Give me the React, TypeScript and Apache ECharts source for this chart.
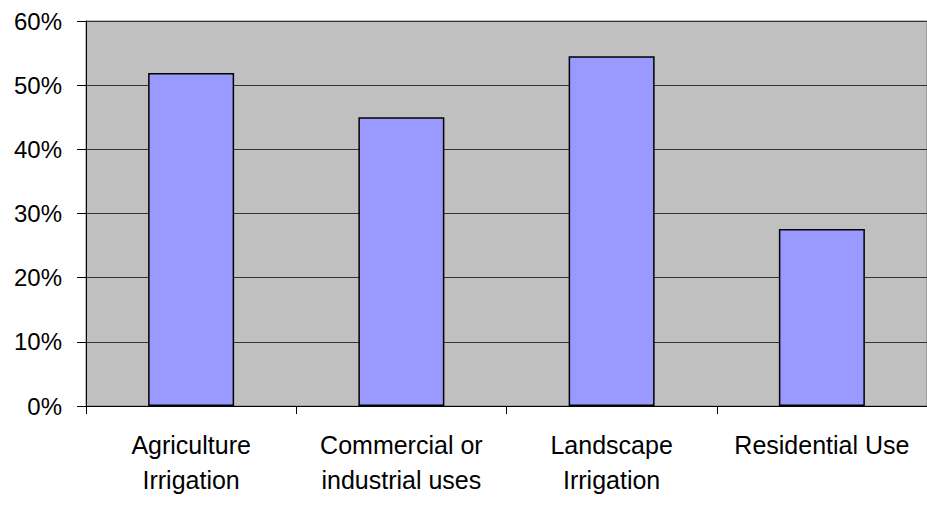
import React, { useEffect, useRef } from "react";
import * as echarts from "echarts";

const categories = [
  "Agriculture\nIrrigation",
  "Commercial or\nindustrial uses",
  "Landscape\nIrrigation",
  "Residential Use",
];
const values = [51.9, 45.0, 54.5, 27.6];
const yTicks = { min: 0, max: 60, interval: 10 };

export default function App() {
  const ref = useRef<HTMLDivElement>(null);
  useEffect(() => {
    document.body.style.margin = "0";
    const chart = echarts.init(ref.current!, null, { renderer: "svg" });
    const font = "'Liberation Sans', Arial, sans-serif";
    chart.setOption({
      animation: false,
      backgroundColor: "#ffffff",
      grid: {
        left: 86,
        right: -1,
        top: 21,
        bottom: 115,
        show: true,
        backgroundColor: "#c0c0c0",
        borderColor: "#808080",
        borderWidth: 1,
      },
      xAxis: {
        type: "category",
        data: categories,
        axisLine: { show: true, lineStyle: { color: "#000", width: 1 } },
        axisTick: { show: true, length: 8, lineStyle: { color: "#000" } },
        axisLabel: {
          color: "#000",
          fontSize: 25,
          fontFamily: font,
          lineHeight: 35,
          margin: 21,
          interval: 0,
        },
      },
      yAxis: {
        type: "value",
        min: yTicks.min,
        max: yTicks.max,
        interval: yTicks.interval,
        axisLine: { show: true, lineStyle: { color: "#000", width: 1 } },
        axisTick: { show: true, length: 9, lineStyle: { color: "#000" } },
        splitLine: { show: true, lineStyle: { color: "#333", width: 1 } },
        axisLabel: {
          color: "#000",
          fontSize: 24,
          fontFamily: font,
          margin: 24,
          formatter: (v: number) => `${v}%`,
        },
      },
      series: [
        {
          type: "bar",
          data: values,
          barWidth: 86,
          itemStyle: {
            color: "#9999ff",
            borderColor: "#000",
            borderWidth: 1.5,
          },
        },
      ],
    });
    return () => chart.dispose();
  }, []);
  return <div ref={ref} style={{ width: 927, height: 521 }} />;
}
